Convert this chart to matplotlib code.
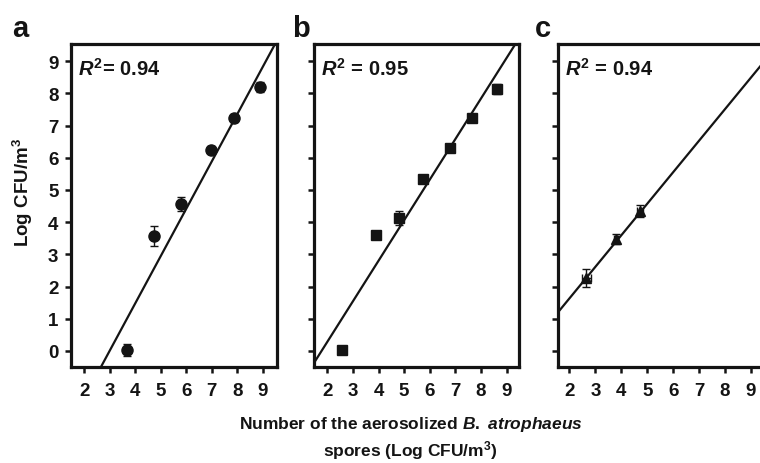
import matplotlib
matplotlib.use("Agg")
import matplotlib.pyplot as plt

plt.rcParams['font.family'] = ['Liberation Sans', 'DejaVu Sans']
plt.rcParams['font.weight'] = 'bold'
plt.rcParams['mathtext.fontset'] = 'custom'
plt.rcParams['mathtext.rm'] = 'Liberation Sans:bold'
plt.rcParams['mathtext.bf'] = 'Liberation Sans:bold'
plt.rcParams['mathtext.it'] = 'Liberation Sans:bold:italic'

# panel a (circles)
a_x = [3.68, 4.75, 5.79, 6.97, 7.87, 8.89]
a_y = [0.03, 3.57, 4.56, 6.25, 7.23, 8.20]
a_yerr = [0.18, 0.32, 0.22, 0.10, 0.12, 0.15]
a_xerr = [0.12, 0.08, 0.08, 0.06, 0.08, 0.10]
a_fit = (1.47, -4.40)
a_r2 = "0.94"

# panel b (squares)
b_x = [2.56, 3.89, 4.80, 5.73, 6.79, 7.64, 8.62]
b_y = [0.03, 3.61, 4.13, 5.34, 6.30, 7.23, 8.14]
b_yerr = [0.10, 0.12, 0.22, 0.12, 0.12, 0.12, 0.15]
b_xerr = [0.08, 0.08, 0.08, 0.08, 0.06, 0.06, 0.08]
b_fit = (1.26, -2.24)
b_r2 = "0.95"

# panel c (triangles)
c_x = [2.65, 3.80, 4.72]
c_y = [2.26, 3.48, 4.34]
c_yerr = [0.28, 0.15, 0.18]
c_xerr = [0.18, 0.08, 0.10]
c_fit = (0.98, -0.33)
c_r2 = "0.94"

yticks = list(range(0, 10))
xticks = list(range(2, 10))

ink = '#141414'

fig = plt.figure(figsize=(7.6, 4.64), dpi=100)

# rect, xlim, data..., marker, size, panel letter, letter x (fig frac), y labels shown
panels = [
    ([0.0934, 0.2069, 0.271, 0.696], (1.48, 9.55), a_x, a_y, a_xerr, a_yerr, a_fit, a_r2, 'o', 8, 'a', 0.016, True),
    ([0.4131, 0.2069, 0.2697, 0.696], (1.48, 9.48), b_x, b_y, b_xerr, b_yerr, b_fit, b_r2, 's', 7.5, 'b', 0.384, False),
    ([0.7342, 0.2069, 0.271, 0.696], (1.56, 9.50), c_x, c_y, c_xerr, c_yerr, c_fit, c_r2, '^', 7.5, 'c', 0.704, False),
]

for rect, xlim, xs, ys, xe, ye, fit, r2, mk, ms, letter, lx_pos, show_y in panels:
    ax = fig.add_axes(rect)
    ax.set_xlim(*xlim)
    ax.set_ylim(-0.5, 9.53)

    # regression line, clipped to axes
    lx = [xlim[0] - 1, xlim[1] + 1]
    ax.plot(lx, [fit[0] * v + fit[1] for v in lx], color=ink, lw=1.6, zorder=2)

    ax.errorbar(xs, ys, yerr=ye, xerr=xe, fmt=mk, ms=ms, color=ink,
                ecolor=ink, elinewidth=1.0, capsize=3, capthick=1.0, zorder=3)

    ax.set_xticks(xticks)
    ax.set_yticks(yticks)
    ax.tick_params(direction='out', length=4, width=1.8, labelsize=13.5,
                   colors=ink, pad=7)
    ax.tick_params(axis='y', pad=5)
    if not show_y:
        ax.set_yticklabels([])
    for lab in ax.get_xticklabels() + ax.get_yticklabels():
        lab.set_fontweight('bold')
    for sp in ax.spines.values():
        sp.set_linewidth(2.3)
        sp.set_color(ink)

    ax.text(0.035, 0.96, r'$R^2$' + ('= ' if letter == 'a' else ' = ') + r2,
            transform=ax.transAxes, fontsize=14.5, fontweight='bold',
            color=ink, va='top', ha='left')

    fig.text(lx_pos, 0.938, letter, fontsize=21, fontweight='bold',
             color=ink, ha='left', va='center')

fig.text(0.030, 0.585, r'Log CFU/m$^3$', rotation=90, fontsize=13.5,
         fontweight='bold', color=ink, ha='center', va='center')
fig.text(0.54, 0.086, r'Number of the aerosolized $B.\ atrophaeus$',
         fontsize=12.5, fontweight='bold', color=ink, ha='center', va='center')
fig.text(0.54, 0.030, r'spores (Log CFU/m$^3$)',
         fontsize=12.5, fontweight='bold', color=ink, ha='center', va='center')

fig.savefig('out.png', dpi=100)
